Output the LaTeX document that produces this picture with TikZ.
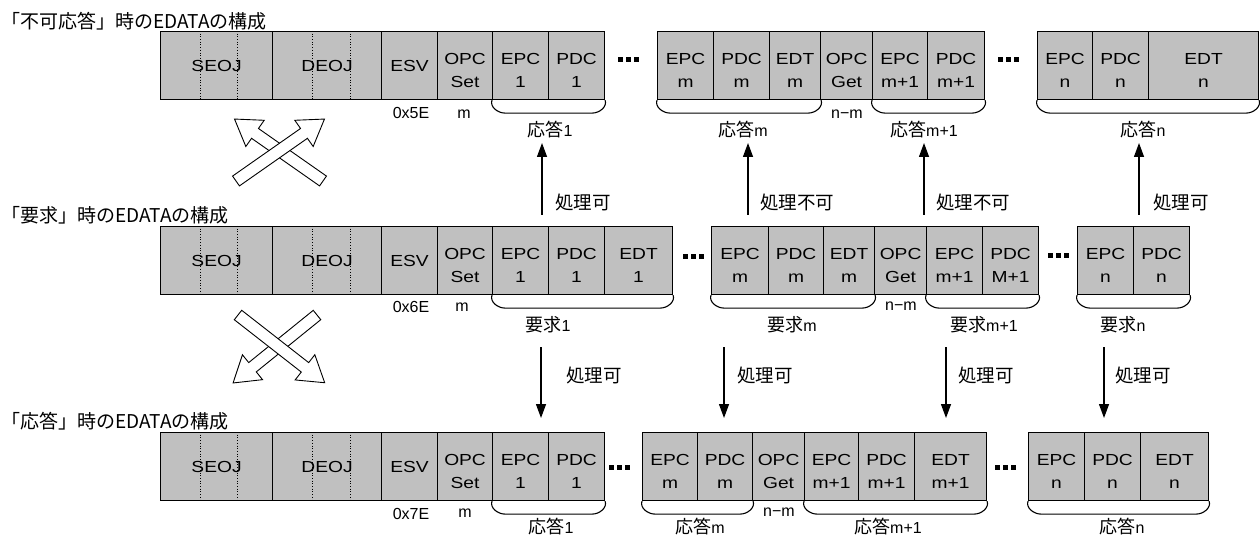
\documentclass[tikz,border=0pt]{standalone}
\usepackage{fontspec}
\setmainfont[FakeStretch=1.2]{Liberation Sans}
\newfontfamily\plain{Liberation Sans}
\newfontfamily\cjk{Noto Sans CJK JP}
\usetikzlibrary{arrows.meta,calc}
\definecolor{boxgray}{RGB}{192,192,192}
\newcommand\fldtwo[5]{\node[fld,minimum width={(#3-#2)*1pt}] (#1) at (#2,#4) {};\node[ftxt] (#1t) at ([yshift=-5pt]#1.center) {#5};}
\newcommand\fldone[5]{\node[fld,minimum width={(#3-#2)*1pt}] (#1) at (#2,#4) {};\node[ftxt] (#1t) at (#1.center) {#5};}
\newcommand\brc[3]{\draw[brc] (#1) to[out=-110,in=180] ++(13,#3) -- ($(#2)+(-13,#3)$) to[out=0,in=-70] (#2);}
\newcommand\tridots[2]{\fill (#1-10.5,#2-2.5) rectangle ++(5,5); \fill (#1-2.5,#2-2.5) rectangle ++(5,5); \fill (#1+5.5,#2-2.5) rectangle ++(5,5);}
\newcommand\harrow[4]{\begin{scope}[shift={(#1,#2)},rotate=#3]\draw[harr] (0,-6) -- ({#4-25},-6) -- ({#4-25},-16) -- (#4,0) -- ({#4-25},16) -- ({#4-25},6) -- (0,6) -- cycle;\end{scope}}
\newcommand\jp[1]{{\cjk\fontsize{18}{20}\selectfont #1}}
\begin{document}
\begin{tikzpicture}[x=1pt,y=-1pt,
  fld/.style={draw,fill=boxgray,line width=1.1pt,inner sep=0pt,minimum height=68pt,anchor=north west},
  ftxt/.style={font=\fontsize{16}{23}\selectfont,align=center,inner sep=0pt},
  sml/.style={font=\plain\fontsize{16}{18}\selectfont,inner sep=0pt},
  ttl/.style={font=\cjk\fontsize{19}{21}\selectfont,inner sep=0pt,anchor=west},
  blab/.style={font=\plain\fontsize{16}{18}\selectfont,inner sep=0pt},
  plab/.style={font=\cjk\fontsize{18.5}{20}\selectfont,inner sep=0pt,anchor=west},
  brc/.style={line width=1.1pt},
  arr/.style={line width=1.3pt,-{Triangle[length=14pt,width=10pt]}},
  harr/.style={draw,fill=white,line width=0.9pt,line join=miter},
  dl/.style={line width=0.7pt,dotted}]
\useasboundingbox (0,0) rectangle (1260,537);

% ---------- titles
\node[ttl] (t1) at (1,21) {「不可応答」時のEDATAの構成};
\node[ttl] (t2) at (1,215) {「要求」時のEDATAの構成};
\node[ttl] (t3) at (1,421) {「応答」時のEDATAの構成};

% ---------- row 1
\fldone{s1}{160}{272}{31}{SEOJ}
\fldone{d1}{272}{381}{31}{DEOJ}
\fldone{e1}{381}{437}{31}{ESV}
\fldtwo{o1}{437}{492}{31}{OPC\\Set}
\fldtwo{a1}{492}{548}{31}{EPC\\1}
\fldtwo{b1}{548}{604}{31}{PDC\\1}
\fldtwo{c1}{657}{713}{31}{EPC\\m}
\fldtwo{f1}{713}{769}{31}{PDC\\m}
\fldtwo{g1}{769}{820}{31}{EDT\\m}
\fldtwo{h1}{820}{872}{31}{OPC\\Get}
\fldtwo{i1}{872}{927}{31}{EPC\\m+1}
\fldtwo{j1}{927}{984}{31}{PDC\\m+1}
\fldtwo{k1}{1037}{1092}{31}{EPC\\n}
\fldtwo{l1}{1092}{1148}{31}{PDC\\n}
\fldtwo{q1}{1148}{1258}{31}{EDT\\n}
\foreach \x in {200,237,312,350}{\draw[dl] (\x,31) -- (\x,99);}
\tridots{628}{60}
\tridots{1008}{60}
\node[sml] (r1esv) at (411,113) {0x5E};
\node[sml] (r1m) at (464,114) {m};
\node[sml] (r1nm) at (847,114) {n−m};
\brc{a1.south west}{b1.south east}{13}
\brc{c1.south west}{g1.south east}{13}
\brc{i1.south west}{j1.south east}{13}
\brc{k1.south west}{q1.south east}{13}
\node[blab] (r1l1) at (550,130) {\jp{応答}1};
\node[blab] (r1lm) at (743,130) {\jp{応答}m};
\node[blab] (r1lm1) at (924,130) {\jp{応答}m+1};
\node[blab] (r1ln) at (1143,130) {\jp{応答}n};

% ---------- row 2
\fldone{s2}{160}{272}{226}{SEOJ}
\fldone{d2}{272}{381}{226}{DEOJ}
\fldone{e2}{381}{437}{226}{ESV}
\fldtwo{o2}{437}{492}{226}{OPC\\Set}
\fldtwo{a2}{492}{548}{226}{EPC\\1}
\fldtwo{b2}{548}{604}{226}{PDC\\1}
\fldtwo{t2b}{604}{672}{226}{EDT\\1}
\fldtwo{c2}{711}{768}{226}{EPC\\m}
\fldtwo{f2}{768}{823}{226}{PDC\\m}
\fldtwo{g2}{823}{874}{226}{EDT\\m}
\fldtwo{h2}{874}{926}{226}{OPC\\Get}
\fldtwo{i2}{926}{982}{226}{EPC\\m+1}
\fldtwo{j2}{982}{1038}{226}{PDC\\M+1}
\fldtwo{k2}{1077}{1133}{226}{EPC\\n}
\fldtwo{l2}{1133}{1189}{226}{PDC\\n}
\foreach \x in {200,237,312,350}{\draw[dl] (\x,226) -- (\x,294);}
\tridots{693}{257}
\tridots{1058}{256}
\node[sml] (r2esv) at (411,307) {0x6E};
\node[sml] (r2m) at (462,307) {m};
\node[sml] (r2nm) at (901,306) {n−m};
\brc{a2.south west}{t2b.south east}{13}
\brc{c2.south west}{g2.south east}{13}
\brc{i2.south west}{j2.south east}{13}
\brc{k2.south west}{l2.south east}{13}
\node[blab] (r2l1) at (548,325) {\jp{要求}1};
\node[blab] (r2lm) at (792,325) {\jp{要求}m};
\node[blab] (r2lm1) at (984,325) {\jp{要求}m+1};
\node[blab] (r2ln) at (1123,325) {\jp{要求}n};

% ---------- row 3
\fldone{s3}{160}{272}{432}{SEOJ}
\fldone{d3}{272}{381}{432}{DEOJ}
\fldone{e3}{381}{437}{432}{ESV}
\fldtwo{o3}{437}{492}{432}{OPC\\Set}
\fldtwo{a3}{492}{548}{432}{EPC\\1}
\fldtwo{b3}{548}{604}{432}{PDC\\1}
\fldtwo{c3}{642}{697}{432}{EPC\\m}
\fldtwo{f3}{697}{752}{432}{PDC\\m}
\fldtwo{h3}{752}{804}{432}{OPC\\Get}
\fldtwo{i3}{804}{858}{432}{EPC\\m+1}
\fldtwo{j3}{858}{914}{432}{PDC\\m+1}
\fldtwo{g3}{914}{986}{432}{EDT\\m+1}
\fldtwo{k3}{1028}{1084}{432}{EPC\\n}
\fldtwo{l3}{1084}{1140}{432}{PDC\\n}
\fldtwo{q3}{1140}{1208}{432}{EDT\\n}
\foreach \x in {200,237,312,350}{\draw[dl] (\x,432) -- (\x,500);}
\tridots{619}{467}
\tridots{1005}{467}
\node[sml] (r3esv) at (411,514) {0x7E};
\node[sml] (r3m) at (465,513) {m};
\node[sml] (r3nm) at (779,512) {n−m};
\brc{a3.south west}{b3.south east}{13}
\brc{c3.south west}{f3.south east}{13}
\brc{i3.south west}{g3.south east}{13}
\brc{k3.south west}{q3.south east}{13}
\node[blab] (r3l1) at (551,527) {\jp{応答}1};
\node[blab] (r3lm) at (700,527) {\jp{応答}m};
\node[blab] (r3lm1) at (888,527) {\jp{応答}m+1};
\node[blab] (r3ln) at (1122,527) {\jp{応答}n};

% ---------- up arrows (row 2 -> row 1)
\foreach \n/\x in {1/542,2/748,3/924,4/1139}{
  \coordinate (us\n) at (\x,215);
  \coordinate (ue\n) at (\x,143);
  \draw[arr] (us\n) -- (ue\n);}
\node[plab] (p1) at (555,202) {処理可};
\node[plab] (p2) at (760,202) {処理不可};
\node[plab] (p3) at (936,202) {処理不可};
\node[plab] (p4) at (1153,202) {処理可};

% ---------- down arrows (row 2 -> row 3)
\foreach \n/\x in {1/541,2/724,3/946,4/1104}{
  \coordinate (ds\n) at (\x,347);
  \coordinate (de\n) at (\x,418);
  \draw[arr] (ds\n) -- (de\n);}
\node[plab] (q1l) at (566,375) {処理可};
\node[plab] (q2l) at (737,375) {処理可};
\node[plab] (q3l) at (958,375) {処理可};
\node[plab] (q4l) at (1115,375) {処理可};

% ---------- crossing hollow arrows
\harrow{323}{181}{145}{108}
\harrow{236}{181}{35}{108}
\harrow{317}{315}{219}{108}
\harrow{238}{315}{-38}{110}
\end{tikzpicture}
\end{document}
